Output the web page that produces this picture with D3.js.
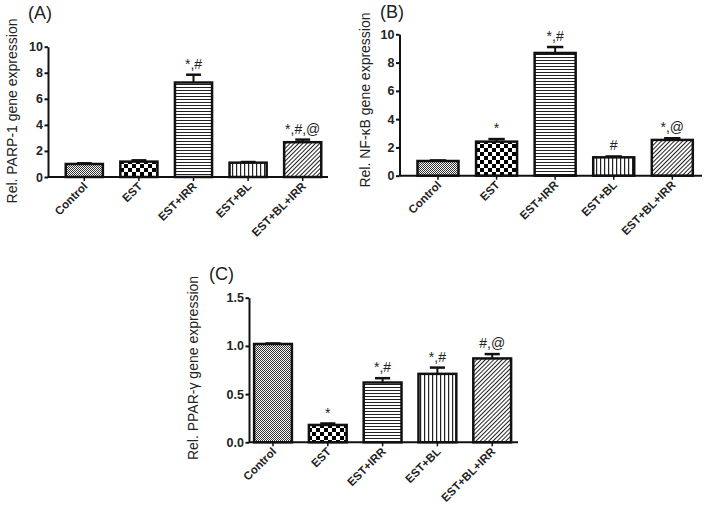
<!DOCTYPE html>
<html><head><meta charset="utf-8">
<script src="https://cdn.jsdelivr.net/npm/d3@7"></script>
<style>body{margin:0;background:#fff}svg{display:block}text{font-family:Arial,"Liberation Sans",sans-serif}</style>
</head><body><svg id="c" width="704" height="507"></svg>
<script>
const categories = ["Control","EST","EST+IRR","EST+BL","EST+BL+IRR"];
const parpMean = [1.0, 1.18, 7.25, 1.1, 2.67];
const parpErr  = [0.05, 0.1, 0.6, 0.05, 0.2];
const parpSig  = ["", "", "*,#", "", "*,#,@"];
const nfkbMean = [1.04, 2.41, 8.68, 1.3, 2.53];
const nfkbErr  = [0.04, 0.18, 0.42, 0.06, 0.12];
const nfkbSig  = ["", "*", "*,#", "#", "*,@"];
const pparMean = [1.02, 0.18, 0.62, 0.71, 0.87];
const pparErr  = [0.005, 0.015, 0.045, 0.065, 0.045];
const pparSig  = ["", "*", "*,#", "*,#", "#,@"];
const parpTicks = [0,2,4,6,8,10];
const nfkbTicks = [0,2,4,6,8,10];
const pparTicks = [0,0.5,1.0,1.5];

const svg = d3.select("#c");
const defs = svg.append("defs");
function pat(id,w,h,draw){const p=defs.append("pattern").attr("id",id).attr("patternUnits","userSpaceOnUse").attr("width",w).attr("height",h);p.append("rect").attr("width",w).attr("height",h).attr("fill","#fff");draw(p);}
pat("p0",2,2,p=>{p.append("rect").attr("width",1).attr("height",1).attr("fill","#333");p.append("rect").attr("x",1).attr("y",1).attr("width",1).attr("height",1).attr("fill","#333");});
pat("p1",8,8,p=>{p.append("rect").attr("width",4).attr("height",4).attr("fill","#000");p.append("rect").attr("x",4).attr("y",4).attr("width",4).attr("height",4).attr("fill","#000");});
pat("p2",3,3,p=>{p.append("rect").attr("y",0).attr("width",3).attr("height",1).attr("fill","#222");});
pat("p3",4,4,p=>{p.append("rect").attr("x",0).attr("width",1.2).attr("height",4).attr("fill","#222");});
pat("p4",3,3,p=>{p.attr("patternTransform","rotate(45)");p.append("rect").attr("x",0).attr("width",1).attr("height",3).attr("fill","#222");});
const fills = ["url(#p0)","url(#p1)","url(#p2)","url(#p3)","url(#p4)"];

const panels = [
  {label:"(A)", lx:28, ly:19, title:"Rel. PARP-1 gene expression", tx:13, ty:111,
   mean:parpMean, err:parpErr, sig:parpSig, ticks:parpTicks, max:10, fmt:d3.format("d"),
   ax:48, axEnd:328, y0:177, y1:46.7, b0:57, b1:330, pad:0.32},
  {label:"(B)", lx:380, ly:18, title:"Rel. NF-\u03BAB gene expression", tx:366, ty:100,
   mean:nfkbMean, err:nfkbErr, sig:nfkbSig, ticks:nfkbTicks, max:10, fmt:d3.format("d"),
   ax:399.5, axEnd:702, y0:175.7, y1:34.3, b0:408.7, b1:701.6, pad:0.3},
  {label:"(C)", lx:209, ly:280, title:"Rel. PPAR-\u03B3 gene expression", tx:194, ty:368,
   mean:pparMean, err:pparErr, sig:pparSig, ticks:pparTicks, max:1.5, fmt:d3.format(".1f"),
   ax:249, axEnd:518, y0:442.3, y1:297.7, b0:245.6, b1:519.6, pad:0.31}
];

panels.forEach(P=>{
  const g = svg.append("g");
  const y = d3.scaleLinear().domain([0,P.max]).range([P.y0,P.y1]);
  const x = d3.scaleBand().domain(categories).range([P.b0,P.b1]).paddingInner(P.pad).paddingOuter(P.pad/2);
  categories.forEach((c,i)=>{
    const bx = x(c), bw = x.bandwidth(), cx = bx+bw/2;
    const top = y(P.mean[i]), etop = y(P.mean[i]+P.err[i]);
    g.append("line").attr("x1",cx).attr("x2",cx).attr("y1",top).attr("y2",etop).attr("stroke","#111").attr("stroke-width",2);
    g.append("line").attr("x1",cx-bw*0.2).attr("x2",cx+bw*0.2).attr("y1",etop).attr("y2",etop).attr("stroke","#111").attr("stroke-width",2.5);
    g.append("rect").attr("x",bx).attr("y",top).attr("width",bw).attr("height",P.y0-top)
      .attr("fill",fills[i]).attr("stroke","#111").attr("stroke-width",2.5);
    if(P.sig[i]) g.append("text").attr("x",cx).attr("y",etop-6).attr("text-anchor","middle")
      .attr("font-size",14).attr("fill","#222").text(P.sig[i]);
  });
  const ya = g.append("g").attr("transform",`translate(${P.ax},0)`)
    .call(d3.axisLeft(y).tickValues(P.ticks).tickFormat(P.fmt).tickSize(3.5).tickSizeOuter(0).tickPadding(1.5));
  ya.select(".domain").attr("stroke","#111").attr("stroke-width",2);
  ya.selectAll(".tick line").attr("stroke","#111").attr("stroke-width",2);
  ya.selectAll(".tick text").attr("font-size",12.5).attr("font-weight","bold").attr("fill","#222").attr("font-family","Arial, 'Liberation Sans', sans-serif");
  const xa = g.append("g").attr("transform",`translate(0,${P.y0})`)
    .call(d3.axisBottom(x).tickSize(4).tickSizeOuter(0).tickFormat(""));
  xa.select(".domain").attr("d",`M${P.ax},0H${P.axEnd}`).attr("stroke","#111").attr("stroke-width",2);
  xa.selectAll(".tick line").attr("stroke","#111").attr("stroke-width",1.5);
  categories.forEach(c=>{
    const cx = x(c)+x.bandwidth()/2+4;
    g.append("text").attr("transform",`translate(${cx},${P.y0+10}) rotate(-45)`)
      .attr("text-anchor","end").attr("font-size",11.5).attr("font-weight","bold").attr("fill","#222").text(c);
  });
  g.append("text").attr("transform",`translate(${P.tx},${P.ty}) rotate(-90)`).attr("text-anchor","middle")
    .attr("dominant-baseline","middle").attr("font-size",14).attr("fill","#222").text(P.title);
  g.append("text").attr("x",P.lx).attr("y",P.ly).attr("font-size",18).attr("fill","#222").text(P.label);
});
</script></body></html>
